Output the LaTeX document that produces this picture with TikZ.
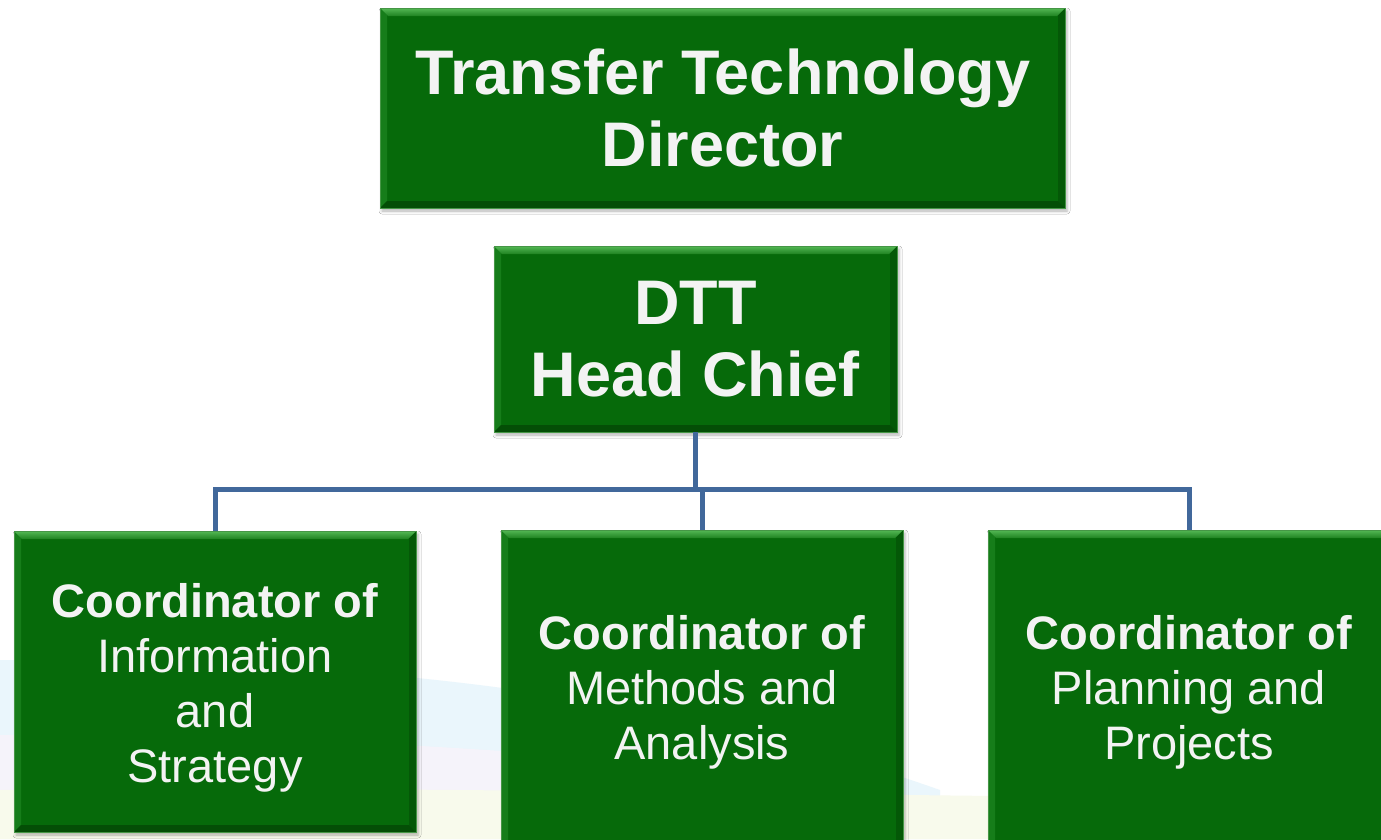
\documentclass[tikz,border=0pt]{standalone}
\usepackage{fontspec}
\setmainfont{Liberation Sans}
\usetikzlibrary{shadows.blur}
\definecolor{boxgreen}{RGB}{6,106,10}
\definecolor{bevtop}{RGB}{85,185,85}
\definecolor{bevleft}{RGB}{22,125,26}
\definecolor{bevbot}{RGB}{4,78,6}
\definecolor{bevright}{RGB}{4,88,7}
\definecolor{edgegreen}{RGB}{70,150,70}
\definecolor{connblue}{RGB}{65,104,155}
\definecolor{txtwhite}{RGB}{243,243,243}
\definecolor{bgblue}{RGB}{234,246,252}
\definecolor{bglav}{RGB}{245,243,250}
\definecolor{bgyel}{RGB}{248,250,236}
\begin{document}
\begin{tikzpicture}[x=1pt,y=-1pt,
  orgbox/.style={rectangle, fill=boxgreen, draw=edgegreen, line width=0.8pt,
    text=txtwhite, align=center, inner sep=0pt,
    blur shadow={shadow xshift=2pt, shadow yshift=-3pt, shadow blur radius=3pt, shadow opacity=30},
    path picture={
      \fill[bevleft] (path picture bounding box.north west) -- ([shift={(7pt,-7pt)}]path picture bounding box.north west)
        -- ([shift={(7pt,7pt)}]path picture bounding box.south west) -- (path picture bounding box.south west) -- cycle;
      \fill[bevright] (path picture bounding box.north east) -- ([shift={(-7pt,-7pt)}]path picture bounding box.north east)
        -- ([shift={(-7pt,7pt)}]path picture bounding box.south east) -- (path picture bounding box.south east) -- cycle;
      \fill[bevbot] (path picture bounding box.south west) -- (path picture bounding box.south east)
        -- ([shift={(-7pt,7pt)}]path picture bounding box.south east) -- ([shift={(7pt,7pt)}]path picture bounding box.south west) -- cycle;
      \shade[top color=bevtop, bottom color=boxgreen!70!bevtop] (path picture bounding box.north west) -- (path picture bounding box.north east)
        -- ([shift={(-8pt,-8pt)}]path picture bounding box.north east) -- ([shift={(8pt,-8pt)}]path picture bounding box.north west) -- cycle;
    }},
  bigtext/.style={font=\fontsize{63pt}{72pt}\selectfont\bfseries},
  smalltext/.style={font=\fontsize{47pt}{55pt}\selectfont},
  conn/.style={draw=connblue, line width=5pt, line join=miter}
]
\useasboundingbox (0,0) rectangle (1381,839);
\fill[white] (0,0) rectangle (1381,839);
% faint background scenery
\fill[bgblue] (0,660) .. controls (250,660) and (600,670) .. (940,790) -- (940,839) -- (0,839) -- cycle;
\fill[bglav] (0,735) .. controls (250,735) and (600,745) .. (940,800) -- (940,839) -- (0,839) -- cycle;
\fill[bgyel] (0,790) .. controls (300,785) and (800,795) .. (1381,800) -- (1381,839) -- (0,839) -- cycle;

\node[orgbox, bigtext, minimum width=685pt, minimum height=200pt] (dir) at (722.5,108) {Transfer Technology\\Director};
\node[orgbox, bigtext, minimum width=403pt, minimum height=186pt] (head) at (695.5,339) {DTT\\Head Chief};
\node[orgbox, smalltext, minimum width=402pt, minimum height=301pt] (c1) at (215,681.5)
  {\rule{0pt}{47pt}\textbf{Coordinator of}\\Information\\and\\Strategy};
\node[orgbox, smalltext, minimum width=402pt, minimum height=324pt] (c2) at (702,692)
  {\textbf{Coordinator of}\\Methods and\\Analysis};
\node[orgbox, smalltext, minimum width=402pt, minimum height=324pt] (c3) at (1189,692)
  {\textbf{Coordinator of}\\Planning and\\Projects};

\coordinate (bus) at (0,489.5);
\draw[conn] (head.south) -- (head.south |- bus);
\draw[conn] (c1.north) -- (c1.north |- bus) -- (c3.north |- bus) -- (c3.north);
\draw[conn] (c2.north) -- (c2.north |- bus);
\end{tikzpicture}
\end{document}
